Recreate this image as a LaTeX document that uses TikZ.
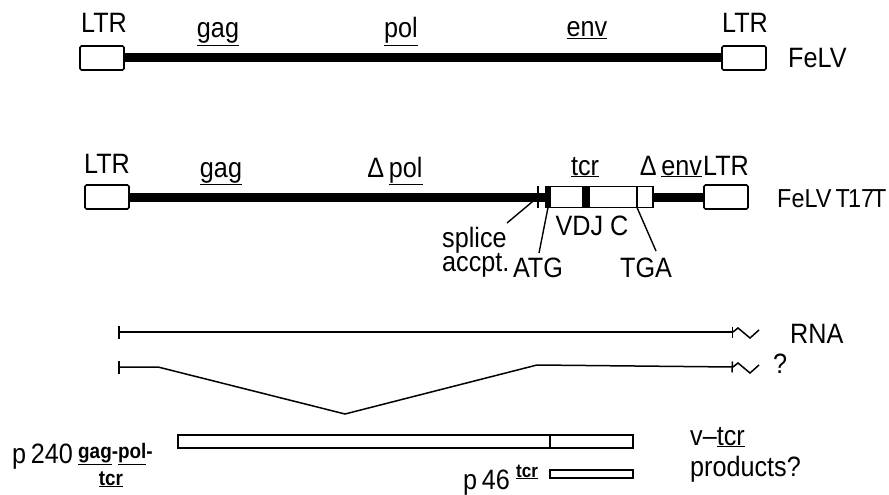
\documentclass[tikz,border=0pt]{standalone}
\usepackage{fontspec}
\setmainfont{Liberation Sans}[FakeStretch=0.9]
\usetikzlibrary{positioning,arrows.meta}

\begin{document}
\begin{tikzpicture}[x=1pt,y=-1pt,
  ltr/.style={draw, line width=1.6pt, fill=white, minimum width=44pt, minimum height=24pt, inner sep=0pt, outer sep=0pt, rounded corners=1.5pt},
  seg/.style={draw, line width=1.6pt, fill=white, minimum height=21pt, inner sep=0pt, outer sep=0pt},
  prod/.style={draw, line width=1.6pt, fill=white, minimum height=13pt, inner sep=0pt, outer sep=0pt},
  provirus/.style={line width=9pt},
  rna/.style={line width=1.5pt},
  ptr/.style={line width=1.4pt},
  lbl/.style={font=\fontsize{28}{30}\selectfont, inner sep=0pt, anchor=base},
  sup/.style={font=\fontsize{21}{22}\selectfont\bfseries, inner sep=0pt, anchor=base}]
\useasboundingbox (0,0) rectangle (889,495);

% FeLV
\path (102,58) node (LTRa) [ltr] {};
\path (744,58) node (LTRb) [ltr] {};
\draw [provirus] (LTRa.east) -- (LTRb.west);

\path (104,33) node (ltrA) [lbl] {LTR};
\path (745,33) node (ltrB) [lbl] {LTR};
\path (218,38) node (gagA) [lbl] {\underline{gag}};
\path (401,38) node (polA) [lbl] {\underline{pol}};
\path (587,37) node (envA) [lbl] {\underline{env}};
\path (788,68) node (felv) [lbl, anchor=base west] {FeLV};

% FeLV T17T
\path (107,197) node (LTRc) [ltr] {};
\path (726,197) node (LTRd) [ltr] {};
\path (546,197) node (atg) [seg, anchor=west, minimum width=4pt, fill=black] {};
\path node (tcrV) [seg, right=0pt of atg, minimum width=33pt] {};
\path node (tcrJ) [seg, right=0pt of tcrV, minimum width=6pt, fill=black] {};
\path node (tcrC) [seg, right=0pt of tcrJ, minimum width=48pt] {};
\path node (envd) [seg, right=0pt of tcrC, minimum width=16pt] {};
\draw [provirus] (LTRc.east) -- (atg.west);
\draw [provirus] (envd.east) -- (LTRd.west);
\coordinate (spl) at (538,197);
\draw [ptr] (538,186) -- (538,208);

\path (107,173) node (ltrC) [lbl] {LTR};
\path (221,177) node (gagB) [lbl] {\underline{gag}};
\path (395,177) node (polB) [lbl] {Δ\,\underline{pol}};
\path (585,175) node (tcrB) [lbl] {\underline{tcr}};
\path (671,175) node (envB) [lbl] {Δ\,\underline{env}};
\path (726,175) node (ltrD) [lbl] {LTR};
\path (777,207) node (felvT) [lbl, anchor=base west, font=\fontsize{26}{28}\selectfont] {FeLV\,T\kern-2pt17\kern-2ptT};
\path (592,235) node (vdjc) [lbl] {VDJ C};

\path (442,247) node (splice) [lbl, anchor=base west] {splice};
\path (442,271) node (accpt) [lbl, anchor=base west] {accpt.};
\path (538,277) node (ATG) [lbl] {ATG};
\path (646,277) node (TGA) [lbl] {TGA};
\coordinate (spltail) at (507,223);
\coordinate (atgtail) at (539,253);
\coordinate (tgatail) at (656,251);
\draw [ptr] (spltail) -- (spl);
\draw [ptr] (atgtail) -- (atg.south);
\draw [ptr] (tgatail) -- (envd.south west);

% RNA
\coordinate (r1s) at (118,332);
\coordinate (r1e) at (733,332);
\draw [rna, {Bar[width=13pt]}-{Bar[width=11pt]}] (r1s) -- (r1e);
\draw [rna] (r1e) -- ++(5,-4) -- ++(12,10) -- ++(9,-8);
\path (790,343) node (rna) [lbl, anchor=base west] {RNA};

\coordinate (r2s) at (118,367);
\coordinate (r2e) at (733,367);
\coordinate (exon) at (158,367);
\coordinate (intr) at (345,414);
\coordinate (acc) at (537,365);
\draw [rna, {Bar[width=13pt]}-{Bar[width=11pt]}] (r2s) -- (exon) -- (intr) -- (acc) -- (r2e);
\draw [rna] (r2e) -- ++(5,-4) -- ++(12,10) -- ++(9,-8);
\path (773,373) node (qm) [lbl, anchor=base west] {?};

% products
\path (178,441.5) node (gpbar) [prod, anchor=west, minimum width=372pt] {};
\path node (tcrbar) [prod, right=0pt of gpbar, minimum width=83pt] {};
\path (591.5,474) node (p46bar) [prod, minimum width=83pt, minimum height=8pt] {};

\path (12,463) node (p240) [lbl, anchor=base west] {p\,240};
\path (78,458) node (gpsup) [sup, anchor=base west] {\underline{gag}-\underline{pol}-};
\path (111,485) node (tcrsup) [sup] {\underline{tcr}};
\path (463,489) node (p46) [lbl, anchor=base west] {p\,46};
\path (516,477) node (p46sup) [sup, anchor=base west, font=\fontsize{19}{20}\selectfont\bfseries] {\underline{tcr}};

\path (690,445) node (vtcr) [lbl, anchor=base west] {v--\underline{tcr}};
\path (690,476) node (prods) [lbl, anchor=base west] {products?};

\end{tikzpicture}
\end{document}
